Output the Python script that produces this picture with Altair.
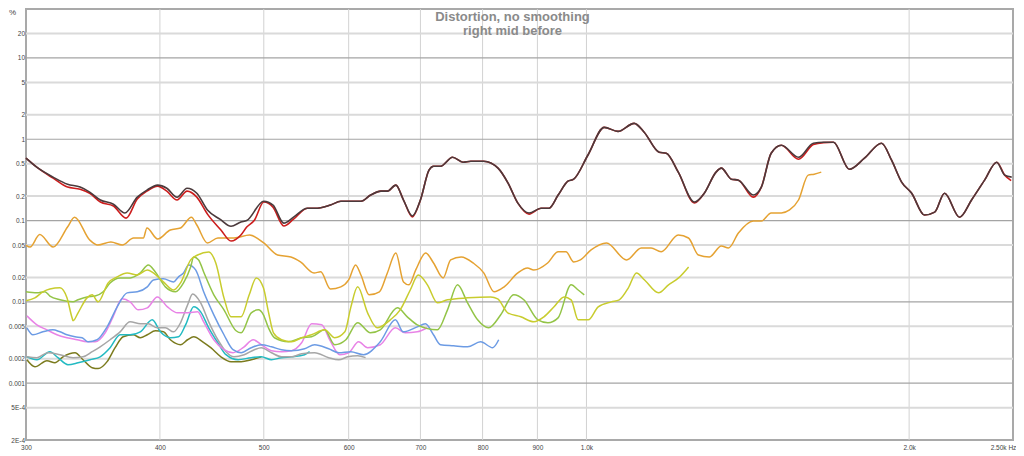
import altair as alt
import pandas as pd

# ---------------- data (Hz, %) ----------------
thd_f = [300, 307, 318, 328, 337, 344, 352, 362, 371, 381, 389, 398, 406, 415, 424, 433, 443, 455, 466, 476, 482,
         500, 510, 522, 533, 549, 561, 577, 590, 616, 629, 643, 652, 664, 675, 688, 700, 713, 720, 731, 750, 767,
         780, 802, 827, 845, 863, 884, 907, 923, 941, 961, 973, 1003, 1039, 1070, 1108, 1132, 1169, 1187, 1218,
         1261, 1288, 1321, 1336, 1365, 1386, 1431, 1456, 1487, 1520, 1577, 1628, 1664, 1700, 1759, 1817, 1885,
         1926, 1968, 2011, 2067, 2113, 2158, 2229, 2287, 2352, 2414, 2456, 2493]
thd_v = [0.585, 0.453, 0.342, 0.280, 0.258, 0.224, 0.179, 0.159, 0.124, 0.194, 0.237, 0.273, 0.250, 0.194, 0.250,
         0.217, 0.135, 0.104, 0.085, 0.096, 0.100, 0.173, 0.155, 0.093, 0.110, 0.142, 0.142, 0.155, 0.173, 0.173,
         0.206, 0.230, 0.230, 0.273, 0.179, 0.114, 0.179, 0.417, 0.466, 0.466, 0.601, 0.522, 0.537, 0.537, 0.441,
         0.289, 0.164, 0.124, 0.142, 0.142, 0.206, 0.305, 0.323, 0.636, 1.40, 1.25, 1.57, 1.22, 0.692, 0.673,
         0.394, 0.169, 0.217, 0.394, 0.441, 0.323, 0.314, 0.206, 0.258, 0.673, 0.844, 0.601, 0.893, 0.919, 0.919,
         0.428, 0.585, 0.893, 0.552, 0.297, 0.217, 0.117, 0.127, 0.217, 0.110, 0.179, 0.314, 0.522, 0.362, 0.342]

h2_f = [300, 307, 318, 328, 337, 344, 352, 362, 372, 381, 389, 398, 406, 415, 424, 433, 443, 456, 466, 476, 482,
        490, 500, 510, 522, 533, 549, 561, 577, 590, 616, 629, 643, 652, 664, 675, 688, 700, 713, 720, 731, 750,
        767, 780, 802, 827, 845, 863, 884, 907, 923, 941, 961, 973, 1003, 1039, 1070, 1108, 1132, 1169, 1187,
        1218, 1261, 1288, 1321, 1336, 1365, 1386, 1431, 1456, 1487, 1520, 1577, 1628, 1664, 1700, 1759, 1817,
        1885, 1926, 1968, 2011, 2067, 2113, 2158, 2229, 2287, 2352, 2414, 2456, 2490]
h2_v = [0.585, 0.453, 0.332, 0.258, 0.243, 0.217, 0.169, 0.151, 0.107, 0.184, 0.230, 0.265, 0.230, 0.179, 0.230,
        0.194, 0.120, 0.0765, 0.056, 0.0664, 0.0832, 0.101, 0.169, 0.146, 0.0857, 0.104, 0.142, 0.142, 0.155,
        0.173, 0.173, 0.206, 0.230, 0.230, 0.273, 0.179, 0.111, 0.179, 0.417, 0.466, 0.466, 0.601, 0.522, 0.537,
        0.537, 0.441, 0.289, 0.164, 0.120, 0.142, 0.142, 0.206, 0.305, 0.323, 0.636, 1.40, 1.25, 1.57, 1.22,
        0.692, 0.673, 0.394, 0.165, 0.217, 0.394, 0.441, 0.323, 0.314, 0.194, 0.258, 0.673, 0.844, 0.568, 0.86,
        0.91, 0.919, 0.428, 0.585, 0.893, 0.552, 0.297, 0.217, 0.117, 0.127, 0.217, 0.110, 0.179, 0.314, 0.522,
        0.362, 0.31]

h3_f = [300, 302.6, 309, 318, 328, 333, 344, 350, 360, 369, 378, 386, 389, 398, 409, 418, 428, 433, 443, 453,
        469, 485, 500, 515, 530, 541, 557, 565, 577, 590, 600, 609, 616, 627, 641, 652, 664, 675, 683, 693,
        708, 720, 735, 747, 764, 784, 802, 820, 838, 863, 881, 893, 920, 941, 957, 973, 987, 1010, 1044, 1090,
        1125, 1149, 1174, 1218, 1245, 1272, 1302, 1336, 1357, 1386, 1431, 1456, 1487, 1520, 1547, 1577, 1610,
        1631, 1656]
h3_v = [0.050, 0.0472, 0.0673, 0.0472, 0.0832, 0.110, 0.0577, 0.050, 0.0545, 0.050, 0.061, 0.061, 0.0809,
        0.0593, 0.0765, 0.0809, 0.110, 0.0881, 0.053, 0.061, 0.061, 0.0664, 0.053, 0.0377, 0.0356, 0.031,
        0.0227, 0.0234, 0.0144, 0.0153, 0.0186, 0.0284, 0.0214, 0.0122, 0.0133, 0.0227, 0.0399, 0.0176,
        0.0162, 0.0247, 0.0399, 0.0301, 0.0197, 0.0328, 0.0356, 0.0301, 0.0227, 0.0133, 0.0153, 0.0227,
        0.0261, 0.0247, 0.0301, 0.0413, 0.0413, 0.031, 0.0328, 0.0435, 0.053, 0.0328, 0.046, 0.046, 0.0413,
        0.0664, 0.061, 0.0377, 0.0356, 0.0486, 0.046, 0.0703, 0.0987, 0.0987, 0.124, 0.124, 0.135, 0.179,
        0.362, 0.372, 0.394]

h4_f = [300, 305.8, 311.1, 315.8, 322.7, 327.6, 331.2, 331.9, 335.5, 342.0, 345.8, 350.3, 357.9, 364.9, 372.8,
        381.0, 389.3, 394.4, 403.0, 411.9, 418.1, 427.3, 433.8, 444.2, 451.0, 459.0, 466.0, 476.2, 484.6, 492.0,
        499.6, 505.0, 510.5, 519.4, 530.7, 542.3, 554.1, 569.9, 582.3, 595.1, 602.6, 611.7, 624.9, 637.9,
        656.2, 670.2, 684.9, 696.8, 710.6, 726.1, 741.9, 774.6, 814.0, 826.4, 844.4, 868.4, 893.1, 912.7,
        932.7, 953.1, 967.6, 982.4, 1003.8, 1025.6, 1054.7, 1073.0, 1094.2, 1113.4, 1132.9, 1167.5, 1192.8,
        1218.8, 1245.4]
h4_v = [0.0103, 0.0112, 0.0133, 0.0144, 0.0149, 0.0112, 0.00636, 0.00585, 0.00733, 0.0112, 0.0122, 0.0100,
        0.0171, 0.0203, 0.0227, 0.0214, 0.0247, 0.0227, 0.0176, 0.0140, 0.0171, 0.0328, 0.0377, 0.0411, 0.0301,
        0.0112, 0.00655, 0.00655, 0.0122, 0.0197, 0.0149, 0.00754, 0.00416, 0.00342, 0.00323, 0.00362,
        0.00394, 0.00453, 0.00362, 0.00428, 0.00844, 0.0153, 0.00733, 0.00480, 0.00601, 0.00798, 0.0140,
        0.0214, 0.0162, 0.00972, 0.0106, 0.0112, 0.0115, 0.0109, 0.00733, 0.00655, 0.00568, 0.00655, 0.00869,
        0.0115, 0.0106, 0.00601, 0.00601, 0.00869, 0.0100, 0.0106, 0.0149, 0.0227, 0.0186, 0.0129, 0.0162,
        0.0197, 0.0269]

h5_f = [300, 307.1, 312.4, 315.8, 322.7, 331.9, 335.5, 342.0, 348.0, 354.1, 359.4, 367.2, 375.2, 383.5, 390.1,
        396.1, 404.7, 413.6, 420.8, 427.3, 430.1, 434.7, 439.4, 449.1, 459.0, 471.1, 476.2, 486.7, 494.2, 499.6,
        505.0, 511.6, 527.3, 542.3, 554.1, 569.9, 582.3, 596.4, 611.7, 628.7, 642.1, 666.2, 680.5, 695.3, 726.1,
        741.9, 758.1, 774.6, 791.5, 810.5, 831.8, 855.4, 874.1, 900.9, 920.6, 940.8, 967.6, 982.4, 995.2]
h5_v = [0.0133, 0.0129, 0.0133, 0.0118, 0.0106, 0.0100, 0.0106, 0.0115, 0.0118, 0.0133, 0.0171, 0.0197, 0.0197,
        0.0227, 0.0284, 0.0233, 0.0153, 0.0133, 0.0171, 0.0269, 0.0357, 0.0328, 0.0233, 0.0122, 0.00798, 0.00441,
        0.00416, 0.00733, 0.00798, 0.00693, 0.00480, 0.00362, 0.00323, 0.00362, 0.00372, 0.00453, 0.00297,
        0.00342, 0.00553, 0.00416, 0.00453, 0.00844, 0.00655, 0.00522, 0.00453, 0.00798, 0.0162, 0.00972,
        0.00601, 0.00480, 0.00693, 0.0122, 0.0106, 0.00601, 0.00553, 0.00636, 0.0162, 0.0140, 0.0122]

h6_f = [300.6, 304.5, 311.1, 317.8, 322.7, 327.6, 333.3, 338.4, 342.8, 349.5, 357.1, 364.9, 372.8, 381.0, 389.3,
        394.4, 403.0, 411.9, 416.3, 420.8, 425.4, 431.9, 439.4, 449.1, 459.0, 468.0, 476.2, 486.7, 497.4, 508.3,
        519.4, 530.7, 545.8, 557.7, 574.8, 587.4, 602.6, 619.6, 642.1, 663.3, 674.6, 695.3, 707.5, 719.9, 730.8,
        751.6, 774.6, 796.6, 817.5, 828.2]
h6_v = [0.00480, 0.00394, 0.00428, 0.00453, 0.00428, 0.00394, 0.00372, 0.00362, 0.00323, 0.00342, 0.00493,
        0.00869, 0.0129, 0.0133, 0.0153, 0.0186, 0.0192, 0.0176, 0.0203, 0.0227, 0.0284, 0.0247, 0.0133, 0.00693,
        0.00394, 0.00258, 0.00237, 0.00273, 0.00297, 0.00280, 0.00258, 0.00251, 0.00265, 0.00297, 0.00265,
        0.00237, 0.00244, 0.00224, 0.00323, 0.00601, 0.00428, 0.00493, 0.00537, 0.00394, 0.00297, 0.00288,
        0.00280, 0.00323, 0.00273, 0.00342]

h7_f = [300.6, 307.1, 313.8, 320.6, 327.6, 334.8, 342.0, 348.0, 355.6, 361.7, 368.8, 375.2, 381.8, 389.3, 397.8,
        406.5, 415.4, 424.5, 433.8, 439.4, 449.1, 459.0, 468.0, 478.3, 488.8, 497.4, 508.3, 519.4, 530.7, 542.3,
        554.1, 566.2, 576.1, 588.7, 600.0, 613.0, 624.9, 642.1, 663.3, 677.5, 695.3, 710.6]
h7_v = [0.00673, 0.00522, 0.00453, 0.00394, 0.00362, 0.00342, 0.00323, 0.00323, 0.00416, 0.00655, 0.0109, 0.0100,
        0.00798, 0.00844, 0.0115, 0.00869, 0.00733, 0.00733, 0.00754, 0.00568, 0.00342, 0.00258, 0.00237,
        0.00273, 0.00342, 0.00297, 0.00251, 0.00244, 0.00251, 0.00314, 0.00537, 0.00522, 0.00342, 0.00224,
        0.00237, 0.00323, 0.00273, 0.00297, 0.00480, 0.00416, 0.00428, 0.00480]

h8_f = [300.6, 307.1, 314.4, 322.7, 331.9, 339.1, 345.8, 351.8, 359.4, 367.2, 375.2, 383.5, 390.1, 397.8, 404.7,
        411.9, 418.1, 424.5, 429.1, 436.6, 444.2, 453.0, 461.0, 469.0, 479.4, 489.9, 497.4, 508.3, 519.4, 530.7,
        542.3, 557.7, 574.8, 587.4, 598.7, 611.7, 622.2]
h8_v = [0.00211, 0.00206, 0.00237, 0.00224, 0.00206, 0.00211, 0.00244, 0.00280, 0.00342, 0.00428, 0.00568,
        0.00537, 0.00537, 0.00480, 0.00480, 0.00428, 0.00553, 0.00919, 0.0125, 0.00972, 0.00568, 0.00342,
        0.00244, 0.00211, 0.00224, 0.00258, 0.00273, 0.00237, 0.00211, 0.00211, 0.00230, 0.00237, 0.00206,
        0.00194, 0.00211, 0.00218, 0.00206]

h9_f = [300.6, 307.1, 315.8, 321.3, 328.3, 335.5, 344.3, 351.8, 359.4, 367.2, 375.2, 383.5, 393.5, 400.4, 409.1,
        416.3, 422.7, 430.1, 436.6, 444.2, 453.0, 461.0, 473.1, 486.7, 497.4, 508.3, 519.4, 530.7, 545.8, 551.7]
h9_v = [0.00211, 0.00194, 0.00244, 0.00206, 0.00169, 0.00178, 0.00194, 0.00211, 0.00273, 0.00394, 0.00394,
        0.00428, 0.00601, 0.00428, 0.00362, 0.00372, 0.00522, 0.00869, 0.00754, 0.00480, 0.00314, 0.00224,
        0.00194, 0.00206, 0.00211, 0.00194, 0.00206, 0.00211, 0.00224, 0.00244]

h10_f = [300.6, 305.8, 313.8, 319.2, 324.8, 333.3, 339.1, 345.8, 350.3, 357.1, 363.3, 369.6, 377.7, 383.5, 389.3,
         396.1, 403.0, 409.1, 418.1, 424.5, 430.1, 438.5, 446.2, 456.0, 466.0, 476.2, 486.7, 497.4]
h10_v = [0.00194, 0.00159, 0.00189, 0.00178, 0.00211, 0.00237, 0.00194, 0.00155, 0.00151, 0.00184, 0.00273,
         0.00372, 0.00394, 0.00362, 0.00394, 0.00441, 0.00428, 0.00342, 0.00297, 0.00342, 0.00372, 0.00323,
         0.00273, 0.00211, 0.00184, 0.00184, 0.00194, 0.00211]

# drawing order: back to front
series = [
    ("H10", h10_f, h10_v, "#7b7b1e"),
    ("H9", h9_f, h9_v, "#22bac2"),
    ("H8", h8_f, h8_v, "#a6a6a6"),
    ("H7", h7_f, h7_v, "#e883e6"),
    ("H6", h6_f, h6_v, "#6c9be4"),
    ("H5", h5_f, h5_v, "#93c447"),
    ("H4", h4_f, h4_v, "#c8cc2e"),
    ("H3", h3_f, h3_v, "#e5a232"),
    ("H2", h2_f, h2_v, "#cc1d1d"),
    ("THD", thd_f, thd_v, "#4b3a3c"),
]

x_ticks = [300, 400, 500, 600, 700, 800, 900, 1000, 2000, 2500]
x_grid = [400, 500, 600, 700, 800, 900, 1000, 2000]
y_ticks = [20, 10, 5, 2, 1, 0.5, 0.2, 0.1, 0.05, 0.02, 0.01, 0.005, 0.002, 0.001, 0.0005, 0.0002]
y_major = [10, 1, 0.1, 0.01, 0.001]
y_minor = [20, 5, 2, 0.5, 0.2, 0.05, 0.02, 0.005, 0.002, 0.0005]
title_lines = ["Distortion, no smoothing", "right mid before"]

FONT = "Liberation Sans"
xscale = alt.Scale(type="log", domain=[300, 2500], nice=False)
yscale = alt.Scale(type="log", domain=[0.0002, 40], nice=False)

x_axis = alt.Axis(
    values=x_ticks,
    labelExpr="datum.value >= 2500 ? '2.50k Hz' : (datum.value >= 1000 ? format(datum.value / 1000, '.1f') + 'k' : format(datum.value, 'd'))",
    grid=False, ticks=False, domain=False, title=None,
    labelFont=FONT, labelFontSize=6.5, labelColor="#444444", labelPadding=4,
    labelFlush=False, labelOverlap=False, labelAlign="center",
    labelOffset={"condition": {"test": "datum.value >= 2500", "value": -10}, "value": 0},
)
y_axis = alt.Axis(
    values=y_ticks,
    labelExpr="datum.value < 0.0003 ? '2E-4' : (datum.value < 0.0009 ? '5E-4' : toString(datum.value))",
    grid=False, ticks=False, domain=False,
    labelFont=FONT, labelFontSize=6.5, labelColor="#444444", labelPadding=1.5, labelOverlap=False,
    title="%", titleAngle=0, titleX=-14, titleY=-1, titleBaseline="top", titleAlign="center",
    titleFont=FONT, titleFontSize=8, titleFontWeight="normal", titleColor="#444444",
)

X = alt.X("f:Q", scale=xscale, axis=x_axis)
Y = alt.Y("v:Q", scale=yscale, axis=y_axis)

grid_x = alt.Chart(pd.DataFrame({"f": x_grid})).mark_rule(color="#d2d2d2", strokeWidth=1).encode(x=X)
grid_minor = alt.Chart(pd.DataFrame({"v": y_minor})).mark_rule(color="#dadada", strokeWidth=2).encode(y=Y)
grid_major = alt.Chart(pd.DataFrame({"v": y_major})).mark_rule(color="#a4a4a4", strokeWidth=1.2).encode(y=Y)

layers = [grid_x, grid_minor, grid_major]
for name, fs, vs, col in series:
    df = pd.DataFrame({"f": fs, "v": vs})
    w = 1.6 if name in ("H2", "THD") else 1.5
    layers.append(
        alt.Chart(df).mark_line(color=col, strokeWidth=w, interpolate="monotone").encode(
            x=X, y=Y, order="f:Q"
        )
    )

chart = alt.layer(*layers).properties(
    width=987,
    height=431,
    autosize=alt.AutoSizeParams(type="none"),
    padding={"left": 18, "top": 1, "right": 3, "bottom": 16},
    background="white",
    title=alt.TitleParams(
        text=title_lines, font=FONT, fontSize=13, fontWeight="bold", color="#8a8a8a",
        anchor="middle", offset=-30, dx=-7, lineHeight=14, frame="group",
    ),
).configure_view(stroke="#a9a9a9", strokeWidth=2)

chart.save("out.html", embed_options={"renderer": "svg", "actions": False})
